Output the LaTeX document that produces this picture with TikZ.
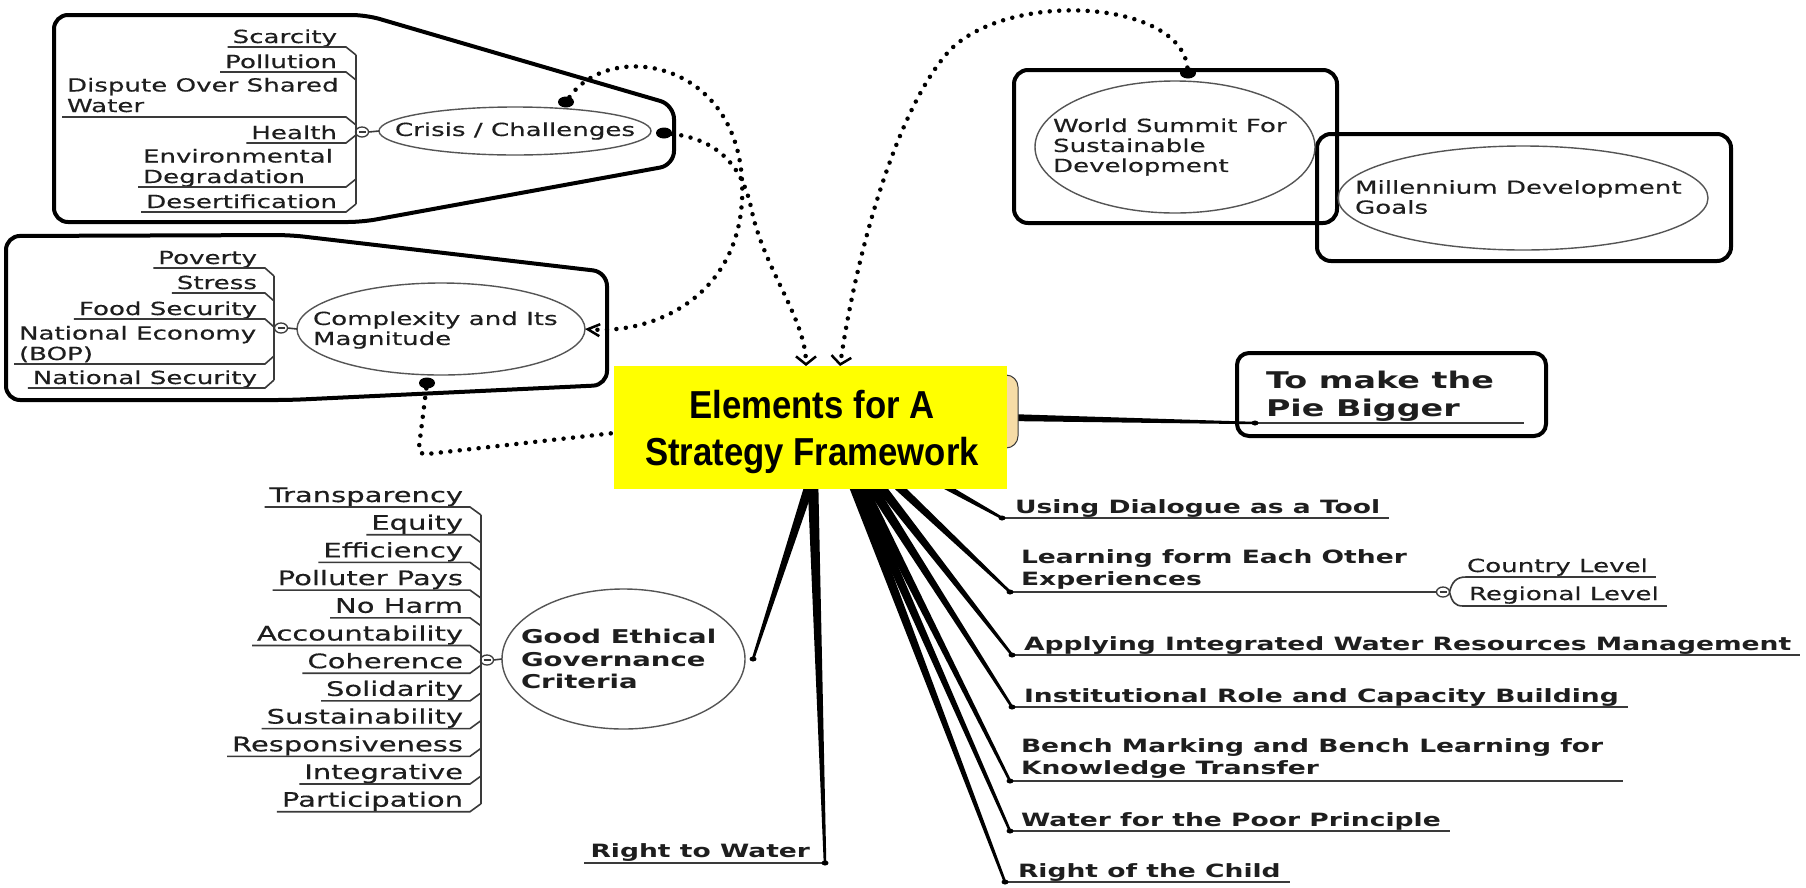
\documentclass[tikz,border=0pt]{standalone}
\usepackage{fontspec}
\setmainfont{DejaVu Sans}[FakeStretch=1.45]
\newfontfamily\regf{DejaVu Sans}[FakeStretch=1.45,FakeBold=0.4]
\newfontfamily\titlefont{Liberation Sans}[FakeStretch=0.89]
\usetikzlibrary{calc,arrows.meta,shapes.geometric}
\definecolor{txt}{HTML}{1E1E1E}
\definecolor{ulc}{HTML}{3A3A3A}
\definecolor{ellc}{HTML}{555555}
\definecolor{tanc}{HTML}{F6DCA6}
\definecolor{yel}{HTML}{FFFF00}
\newcommand\mytaper[4]{\fill[black] ($(#1)!#3!90:(#2)$) -- ($(#2)!#4!-90:(#1)$) -- ($(#2)!#4!90:(#1)$) -- ($(#1)!#3!-90:(#2)$) -- cycle;}
\newcommand\grpsym[2]{\node[grp] (#1) at (#2) {};\draw[ulc,line width=1.2pt] ($(#1.center)+(-3.5,0)$) -- ($(#1.center)+(3.5,0)$);}
\begin{document}
\begin{tikzpicture}[x=1pt,y=-1pt,
  every node/.style={inner sep=0pt,outer sep=0pt},
  itm/.style={font=\regf\fontsize{18}{20.5}\selectfont,text=txt,align=left},
  gitm/.style={font=\regf\fontsize{20}{22}\selectfont,text=txt},
  brn/.style={font=\bfseries\fontsize{18.3}{21.5}\selectfont,text=txt,align=left},
  uline/.style={draw=ulc,line width=1.6pt},
  topic/.style={ellipse,draw=ellc,line width=1.4pt},
  ttxt/.style={align=left,text=txt,font=\regf\fontsize{18}{20}\selectfont},
  bigbox/.style={draw=black,line width=4pt,rounded corners=14pt},
  dotline/.style={line width=4.5pt,line cap=round,dash pattern=on 0pt off 9.5pt},
  jdot/.style={ellipse,fill=black,minimum width=16pt,minimum height=11pt},
  edot/.style={ellipse,fill=black,minimum width=7pt,minimum height=5pt},
  grp/.style={ellipse,draw=ulc,line width=1.3pt,minimum width=13pt,minimum height=10pt,fill=white},
  barbh/.style={-{Straight Barb[length=12pt,width=12pt,line width=2.5pt]}},
  barbv/.style={-{Straight Barb[length=8pt,width=20pt,line width=2.5pt]}},
]
\useasboundingbox (0,0) rectangle (1806,887);
\fill[white] (0,0) rectangle (1806,887);

% ---------- Crisis / Challenges ----------
\draw[bigbox] (54,15) -- (366,15) -- (674,105) -- (674,165) -- (362,222) -- (54,222) -- cycle;
\node[topic,minimum width=272pt,minimum height=48pt] (crE) at (515,131) {};
\node[ttxt] (crT) at (crE.center) {Crisis / Challenges};
\grpsym{crG}{362,132}
\draw[uline] (crG.east) -- (crE.west);
\node[itm,anchor=base east] (c1) at (337,43) {Scarcity};
\node[itm,anchor=base east] (c2) at (337,68) {Pollution};
\node[itm,anchor=base west] (c3) at (67,112) {Dispute Over Shared\\Water};
\node[itm,anchor=base east] (c4) at (337,139) {Health};
\node[itm,anchor=base west] (c5) at (143,183) {Environmental\\Degradation};
\node[itm,anchor=base east] (c6) at (337,208) {Desertification};
\foreach \n/\y/\j in {c1/47/55,c2/72/80,c3/117/125,c4/143/135,c5/187/179,c6/212/204}{
  \path (346,\y) coordinate (tmp);
  \draw[uline] (356,\j) -- (tmp) -- (tmp -| \n.west) -- ++(-5,0);
}
\draw[uline] (356,55) -- (356,204);

% ---------- Complexity ----------
\draw[bigbox] (6,236) -- (290,235) -- (607,272) -- (607,385) -- (290,400) -- (6,400) -- cycle;
\node[topic,minimum width=288pt,minimum height=92pt] (cxE) at (441,329) {};
\node[ttxt,anchor=west] (cxT) at (313,330) {Complexity and Its\\Magnitude};
\grpsym{cxG}{281,328}
\draw[uline] (cxG.east) -- (cxE.west);
\node[itm,anchor=base east] (x1) at (257,264) {Poverty};
\node[itm,anchor=base east] (x2) at (257,289) {Stress};
\node[itm,anchor=base east] (x3) at (257,315) {Food Security};
\node[itm,anchor=base west] (x4) at (19,360) {National Economy\\(BOP)};
\node[itm,anchor=base east] (x5) at (257,384) {National Security};
\foreach \n/\y/\j in {x1/268/276,x2/293/301,x3/319/327,x4/364/356,x5/388/380}{
  \path (265,\y) coordinate (tmp);
  \draw[uline] (274,\j) -- (tmp) -- (tmp -| \n.west) -- ++(-5,0);
}
\draw[uline] (274,276) -- (274,380);

% ---------- World Summit / MDG ----------
\node[bigbox,minimum width=323pt,minimum height=153pt] (wsBox) at (1175.5,146.5) {};
\node[bigbox,minimum width=414pt,minimum height=127pt] (mdBox) at (1524,197.5) {};
\node[topic,minimum width=280pt,minimum height=132pt] (wsE) at (1175,147) {};
\node[ttxt,anchor=west] (wsT) at (1053,147) {World Summit For\\Sustainable\\Development};
\node[topic,minimum width=370pt,minimum height=104pt] (mdE) at (1523,198) {};
\node[ttxt,anchor=west] (mdT) at (1355,197) {Millennium Development\\Goals};

% ---------- Good Ethical Governance ----------
\node[topic,minimum width=243pt,minimum height=140pt] (gE) at (623.5,659) {};
\node[ttxt,anchor=west,font=\bfseries\fontsize{19}{22.5}\selectfont] (gT) at (521,659) {Good Ethical\\Governance\\Criteria};
\grpsym{gG}{487,660}
\draw[uline] (gG.east) -- (gE.west);
\foreach \t [count=\i] in {Transparency,Equity,Efficiency,Polluter Pays,No Harm,Accountability,Coherence,Solidarity,Sustainability,Responsiveness,Integrative,Participation}{
  \pgfmathsetmacro\uy{507+27.7*(\i-1)}
  \pgfmathsetmacro\jy{\i<7 ? \uy+8 : \uy-8}
  \node[gitm,anchor=base east] (g\i) at (463,\uy-5) {\t};
  \path (470,\uy) coordinate (tmp);
  \draw[uline] (481,\jy) -- (tmp) -- (tmp -| g\i.west) -- ++(-5,0);
}
\draw[uline] (481,515) -- (481,804);

% ---------- dotted relations ----------
\node[jdot] (dCrT) at (566,102) {};
\node[jdot] (dCrR) at (664,133) {};
\node[jdot] (dCxB) at (427,383) {};
\node[jdot] (dWs) at (1188,73) {};
\coordinate (aC1) at (806,366);
\coordinate (aC2) at (840,366);
\draw[dotline,barbh] (dCrT) .. controls (610,40) and (735,60) .. (742,180) .. controls (748,290) and (660,335) .. (cxE.east);
\draw[dotline,barbv] (dCrR) .. controls (725,140) and (745,175) .. (752,212) .. controls (765,270) and (806,320) .. (aC1);
\draw[dotline,barbv] (dWs) .. controls (1180,0) and (1010,-10) .. (950,50) .. controls (895,110) and (855,260) .. (aC2);
\draw[dotline,rounded corners=8pt] (dCxB) -- (418,455) -- (614,433);

% ---------- branches ----------
\coordinate (root) at (830,422);
\coordinate (rootW) at (811,422);
\coordinate (rootP) at (850,414);
\coordinate (eDlg) at (1002,518);
\coordinate (eLrn) at (1010,592);
\coordinate (eApp) at (1012,655);
\coordinate (eIns) at (1012,707);
\coordinate (eBen) at (1010,781);
\coordinate (eWfp) at (1010,831);
\coordinate (eRoc) at (1005,882);
\coordinate (eGov) at (753,659);
\coordinate (eRtw) at (825,863);
\coordinate (ePie) at (1255,423);
\foreach \e in {eDlg,eLrn,eApp,eIns,eBen,eWfp,eRoc,eGov}{\mytaper{root}{\e}{6pt}{1.3pt}}
\mytaper{rootW}{eRtw}{6pt}{1.3pt}
\mytaper{rootP}{ePie}{5pt}{1.2pt}

% ---------- central topic ----------
\node[draw=ulc,fill=tanc,rounded corners=12pt,line width=1pt,minimum width=150pt,minimum height=73pt] (tanbox) at (943,411.5) {};
\node[fill=yel,minimum width=393pt,minimum height=123pt] (center) at (810.5,427.5) {};
\node[font=\titlefont\bfseries\fontsize{39}{47}\selectfont,align=center,anchor=base] (title) at (812,465) {Elements for A\\Strategy Framework};

% ---------- Pie ----------
\node[bigbox,rounded corners=12pt,minimum width=309pt,minimum height=83pt] (pieBox) at (1391.5,394.5) {};
\node[font=\bfseries\fontsize{23}{28}\selectfont,text=txt,align=left,anchor=base west] (pieT) at (1266,416) {To make the\\Pie Bigger};
\draw[uline] (ePie) -- (1524,423);

% ---------- right branch texts ----------
\node[brn,anchor=base west] (bDlg) at (1015,513) {Using Dialogue as a Tool};
\node[brn,anchor=base west] (bLrn) at (1021,585) {Learning form Each Other\\Experiences};
\node[brn,anchor=base west] (bApp) at (1024,650) {Applying Integrated Water Resources Management};
\node[brn,anchor=base west] (bIns) at (1024,702) {Institutional Role and Capacity Building};
\node[brn,anchor=base west] (bBen) at (1021,774) {Bench Marking and Bench Learning for\\Knowledge Transfer};
\node[brn,anchor=base west] (bWfp) at (1021,826) {Water for the Poor Principle};
\node[brn,anchor=base west] (bRoc) at (1018,877) {Right of the Child};
\node[brn,anchor=base east] (bRtw) at (810,857) {Right to Water};
\foreach \e/\n in {eDlg/bDlg,eApp/bApp,eIns/bIns,eWfp/bWfp,eRoc/bRoc}{\draw[uline] (\e) -- (\e -| \n.east) -- ++(9,0);}
\draw[uline] (eBen) -- (eBen -| bBen.east) -- ++(20,0);
\draw[uline] (eRtw) -- (eRtw -| bRtw.west) -- ++(-7,0);
\grpsym{lG}{1443,592}
\draw[uline] (eLrn) -- (lG.west);
\node[itm,anchor=base west] (cty) at (1467,572) {Country Level};
\node[itm,anchor=base west] (reg) at (1469,600) {Regional Level};
\coordinate (cu) at (1466,577);
\coordinate (ru) at (1463,606);
\draw[uline] (lG.east) .. controls (1452,582) and (1456,577) .. (cu) -- (cu -| cty.east) -- ++(8,0);
\draw[uline] (lG.east) .. controls (1452,602) and (1455,606) .. (ru) -- (ru -| reg.east) -- ++(8,0);
\foreach \e in {eDlg,eLrn,eApp,eIns,eBen,eWfp,eRoc,eGov,eRtw,ePie}{\node[edot] (d\e) at (\e) {};}
\end{tikzpicture}
\end{document}
